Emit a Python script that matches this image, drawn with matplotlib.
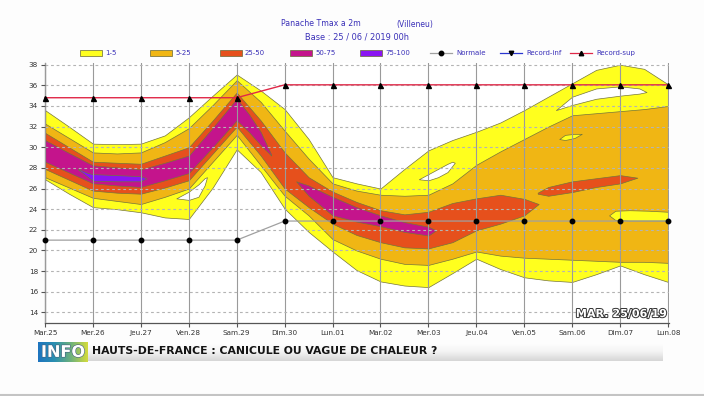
import numpy as np
import matplotlib
matplotlib.use("Agg")
import matplotlib.pyplot as plt
from matplotlib.patches import Rectangle
from matplotlib.lines import Line2D
import matplotlib.patheffects as pe
from matplotlib import font_manager

# ---------------- data ----------------
day_labels = ["Mar.25", "Mer.26", "Jeu.27", "Ven.28", "Sam.29", "Dim.30", "Lun.01",
              "Mar.02", "Mer.03", "Jeu.04", "Ven.05", "Sam.06", "Dim.07", "Lun.08"]
day_pos = list(range(14))
y_ticks = [14, 16, 18, 20, 22, 24, 26, 28, 30, 32, 34, 36, 38]

normale = [21.0, 21.0, 21.0, 21.0, 21.0, 22.85, 22.85, 22.85, 22.85, 22.85, 22.85, 22.85, 22.85, 22.85]
record_sup = [34.8, 34.8, 34.8, 34.8, 34.8, 36.05, 36.05, 36.05, 36.05, 36.05, 36.05, 36.05, 36.05, 36.05]

t_half = [0, 0.5, 1, 1.5, 2, 2.5, 3, 3.5, 4, 4.5, 5, 5.5, 6, 6.5, 7, 7.5, 8, 8.5, 9,
          9.5, 10, 10.5, 11, 11.5, 12, 12.5, 13]
# band 1-5 (outer, yellow)
yellow_hi = [33.6, 32.0, 30.35, 30.3, 30.35, 31.15, 32.9, 35.0, 37.05, 35.5, 33.7, 30.8, 27.1,
             26.5, 26.0, 27.9, 29.7, 30.7, 31.5, 32.4, 33.6, 34.9, 36.2, 37.5, 38.0, 37.6, 36.1]
yellow_lo = [26.9, 25.5, 24.2, 24.0, 23.7, 23.2, 23.05, 26.1, 29.8, 27.6, 24.05, 21.8, 19.9,
             18.1, 17.0, 16.6, 16.45, 17.8, 19.2, 18.2, 17.4, 17.1, 16.95, 17.7, 18.55, 17.7, 16.95]
# band 5-25 (gold)
gold_hi = [32.3, 30.9, 29.5, 29.4, 29.5, 30.5, 31.85, 34.1, 36.5, 34.4, 31.6, 28.9, 26.5,
           25.8, 25.4, 25.3, 25.4, 26.5, 28.3, 29.6, 30.8, 32.0, 33.1, 33.3, 33.5, 33.7, 34.0]
gold_lo = [27.1, 26.1, 25.1, 24.8, 24.5, 25.2, 26.0, 28.6, 31.2, 28.25, 25.3, 23.4, 21.1,
           20.0, 19.2, 18.7, 18.6, 19.2, 19.9, 19.5, 19.3, 19.2, 19.1, 19.0, 18.9, 18.9, 18.8]
# band 25-50 (orange)
orange_t = [0, 0.5, 1, 1.5, 2, 2.5, 3, 3.5, 4, 4.5, 5, 5.5, 6, 6.5, 7, 7.5, 8, 8.5, 9, 9.5, 10, 10.3]
orange_hi = [31.4, 30.0, 28.6, 28.5, 28.4, 29.2, 30.0, 32.6, 35.3, 32.6, 29.5, 27.1, 25.7,
             24.7, 23.9, 23.5, 23.75, 24.6, 25.05, 25.4, 25.0, 24.5]
orange_lo = [27.9, 26.85, 25.8, 25.6, 25.5, 26.1, 26.8, 29.4, 32.0, 29.2, 26.0, 24.2, 22.6,
             21.5, 20.8, 20.3, 20.2, 20.8, 21.95, 22.6, 23.4, 24.5]
orange2_t = [10.28, 10.5, 11.0, 11.5, 12.0, 12.36]
orange2_hi = [25.6, 26.15, 26.7, 27.0, 27.3, 27.05]
orange2_lo = [25.5, 25.3, 25.66, 26.15, 26.5, 27.05]
# band 50-75 (magenta)
mag1_t = [0, 0.5, 1, 1.5, 2, 2.5, 3, 3.5, 4, 4.25, 4.5, 4.72]
mag1_hi = [30.7, 29.45, 28.25, 28.05, 27.85, 28.5, 29.2, 31.9, 34.7, 33.25, 31.5, 29.3]
mag1_lo = [28.6, 27.55, 26.5, 26.3, 26.15, 26.8, 27.5, 30.0, 32.6, 31.5, 30.2, 29.2]
mag2_t = [5.24, 5.5, 6.0, 6.5, 7.0, 7.5, 8.0, 8.16]
mag2_hi = [26.7, 26.3, 25.2, 24.2, 23.4, 22.75, 22.3, 21.95]
mag2_lo = [26.7, 25.3, 23.4, 22.8, 22.35, 21.8, 21.45, 21.95]
# band 75-100 (purple)
purple_t = [0.69, 0.9, 1.0, 1.5, 2.0, 2.12]
purple_hi = [27.9, 27.5, 27.4, 27.3, 27.2, 27.0]
purple_lo = [27.85, 27.1, 26.75, 26.7, 26.7, 27.0]
# empty pockets inside the 1-5 band
holeA_t = [2.74, 3.0, 3.2, 3.33, 3.38]
holeA_hi = [25.05, 25.7, 26.4, 27.0, 27.1]
holeA_lo = [25.05, 24.9, 25.2, 26.3, 27.1]
holeB_t = [7.8, 8.0, 8.2, 8.4, 8.5, 8.55]
holeB_hi = [26.9, 27.4, 27.9, 28.4, 28.6, 28.5]
holeB_lo = [26.9, 26.8, 27.1, 27.6, 28.2, 28.5]
holeC_t = [10.66, 11.0, 11.5, 12.0, 12.4, 12.55]
holeC_hi = [33.6, 34.9, 35.7, 35.9, 35.7, 35.35]
holeC_lo = [33.6, 34.1, 34.7, 35.0, 35.2, 35.35]
# 1-5 islands inside the 5-25 band
islD_t = [11.77, 11.9, 12.2, 12.6, 13.0]
islD_hi = [23.4, 23.85, 23.9, 23.85, 23.75]
islD_lo = [23.4, 22.95, 22.9, 22.9, 22.9]
islE_t = [10.73, 10.85, 11.05, 11.2]
islE_hi = [30.8, 31.2, 31.3, 31.3]
islE_lo = [30.8, 30.7, 30.9, 31.3]

legend_labels = ["1-5", "5-25", "25-50", "50-75", "75-100"]

# ---------------- style ----------------
C_YEL = "#ffff1e"
C_GOLD = "#f0b614"
C_ORA = "#e6501c"
C_MAG = "#c4148c"
C_PUR = "#8a14f2"
C_EDGE = "#74743c"
C_TXT = "#3a30b8"

names = {f.name for f in font_manager.fontManager.ttflist}
narrow = "Liberation Sans Narrow" if "Liberation Sans Narrow" in names else "DejaVu Sans"
plt.rcParams["font.family"] = [narrow, "DejaVu Sans"]

W, H = 704, 396
fig = plt.figure(figsize=(W / 100, H / 100), dpi=100, facecolor="#fdfdfd")

# main axes: y scale 10.32 px/deg, bottom at 322.7 px
ylo, yhi = 13.0, 38.2
ax_h = (yhi - ylo) * 10.32
ax = fig.add_axes([45 / W, 1 - 322.7 / H, 624 / W, ax_h / H])
ax.set_facecolor("white")

kw = dict(edgecolor=C_EDGE, linewidth=0.5)
ax.fill_between(t_half, yellow_lo, yellow_hi, facecolor=C_YEL, **kw)
for tt, lo, hi in [(holeA_t, holeA_lo, holeA_hi), (holeB_t, holeB_lo, holeB_hi),
                   (holeC_t, holeC_lo, holeC_hi)]:
    ax.fill_between(tt, lo, hi, facecolor="white", **kw)
ax.fill_between(t_half, gold_lo, gold_hi, facecolor=C_GOLD, **kw)
for tt, lo, hi in [(islD_t, islD_lo, islD_hi), (islE_t, islE_lo, islE_hi)]:
    ax.fill_between(tt, lo, hi, facecolor=C_YEL, **kw)
ax.fill_between(orange_t, orange_lo, orange_hi, facecolor=C_ORA, **kw)
ax.fill_between(orange2_t, orange2_lo, orange2_hi, facecolor=C_ORA, **kw)
ax.fill_between(mag1_t, mag1_lo, mag1_hi, facecolor=C_MAG, **kw)
ax.fill_between(mag2_t, mag2_lo, mag2_hi, facecolor=C_MAG, **kw)
ax.fill_between(purple_t, purple_lo, purple_hi, facecolor=C_PUR, **kw)

ax.plot(day_pos, normale, color="#a0a0a0", lw=0.9, marker="o", ms=3.2,
        mfc="black", mec="black", zorder=4, clip_on=False)
ax.plot(day_pos, record_sup, color="#e02848", lw=1.0, marker="^", ms=3.6,
        mfc="black", mec="black", zorder=4, clip_on=False)

ax.set_xlim(0, 13.02)
ax.set_ylim(ylo, yhi)
ax.set_xticks(day_pos)
ax.set_xticklabels(day_labels)
ax.set_yticks(y_ticks)
ax.set_axisbelow(False)
ax.xaxis.grid(True, color="#9a9a9a", lw=0.8, ls="-")
ax.yaxis.grid(True, color="#b4b4b4", lw=0.8, ls=(0, (2.5, 2.5)))
for s in ["top", "right"]:
    ax.spines[s].set_visible(False)
for s in ["left", "bottom"]:
    ax.spines[s].set_color("#555555")
    ax.spines[s].set_linewidth(0.9)
ax.tick_params(axis="both", direction="out", length=3, width=0.8, color="#555555",
               labelsize=5.2, labelcolor="#333333", pad=2)

ax.text(12.98, 13.35, "MAR. 25/06/19", ha="right", va="bottom", fontsize=8,
        color="white", fontweight="bold", zorder=6,
        path_effects=[pe.withStroke(linewidth=1.4, foreground="#333333")])

# ---------------- overlay (titles, legend, banner) ----------------
ov = fig.add_axes([0, 0, 1, 1], zorder=-1)
ov.set_xlim(0, W)
ov.set_ylim(H, 0)
ov.axis("off")

r = fig.canvas.get_renderer()


def fit(t, width_px):
    bb = t.get_window_extent(r)
    t.set_fontsize(t.get_fontsize() * width_px / bb.width)


t1 = ov.text(281, 24, "Panache Tmax a 2m", ha="left", va="center", fontsize=6.5, color=C_TXT)
fit(t1, 79)
t2 = ov.text(396, 24, "(Villeneu)", ha="left", va="center", fontsize=6.5, color=C_TXT)
fit(t2, 37)
t3 = ov.text(305, 36.5, "Base : 25 / 06 / 2019 00h", ha="left", va="center", fontsize=6.5, color=C_TXT)
fit(t3, 104)

patch_colors = [C_YEL, C_GOLD, C_ORA, C_MAG, C_PUR]
for i, (lab, col) in enumerate(zip(legend_labels, patch_colors)):
    x0 = 80 + 70 * i
    ov.add_patch(Rectangle((x0, 50), 22, 6, facecolor=col, edgecolor="#666633", lw=0.5))
    ov.text(x0 + 25, 53, lab, ha="left", va="center", fontsize=5, color=C_TXT)

line_items = [("Normale", "#a0a0a0", "o"), ("Record-inf", "#2a36d0", "v"), ("Record-sup", "#e02848", "^")]
for i, (lab, col, mk) in enumerate(line_items):
    x0 = 430 + 70 * i
    ov.add_line(Line2D([x0, x0 + 22], [53, 53], color=col, lw=0.9))
    ov.add_line(Line2D([x0 + 11], [53], marker=mk, ms=3.2, color="black", lw=0))
    ov.text(x0 + 26, 53, lab, ha="left", va="center", fontsize=5, color=C_TXT)

# banner: INFO box
bax = fig.add_axes([38 / W, 1 - 362 / H, 50 / W, 20 / H])
grad = np.linspace(0, 1, 256).reshape(1, -1)
from matplotlib.colors import LinearSegmentedColormap
cm_info = LinearSegmentedColormap.from_list("info", ["#1e74c0", "#2a8fb0", "#6fb27a", "#d4dc3c"])
bax.imshow(grad, aspect="auto", cmap=cm_info, extent=[0, 1, 0, 1])
bax.axis("off")
ti = bax.text(0.5, 0.48, "INFO", ha="center", va="center", color="white",
              fontsize=12, fontweight="bold", transform=bax.transAxes,
              path_effects=[pe.withStroke(linewidth=0.8, foreground="#456080")])
fit(ti, 44)

hax = fig.add_axes([88 / W, 1 - 361.5 / H, 575 / W, 19 / H])
vgrad = np.linspace(0, 1, 64).reshape(-1, 1)
cm_bar = LinearSegmentedColormap.from_list("bar", ["#ffffff", "#f4f4f4", "#d6d6d6"])
hax.imshow(vgrad, aspect="auto", cmap=cm_bar, extent=[0, 1, 0, 1])
hax.axis("off")
th = ov.text(92, 351.5, "HAUTS-DE-FRANCE : CANICULE OU VAGUE DE CHALEUR ?", ha="left", va="center",
             fontsize=10, fontweight="bold", color="#141414", zorder=5)
th.remove()
th = fig.text(92 / W, 1 - 351.5 / H, "HAUTS-DE-FRANCE : CANICULE OU VAGUE DE CHALEUR ?",
              ha="left", va="center", fontsize=10, fontweight="bold", color="#141414", zorder=5)
fit(th, 348)

ov.add_line(Line2D([0, W], [395, 395], color="#c4c4c4", lw=1.5))

fig.savefig("out.png", dpi=100, facecolor=fig.get_facecolor())
